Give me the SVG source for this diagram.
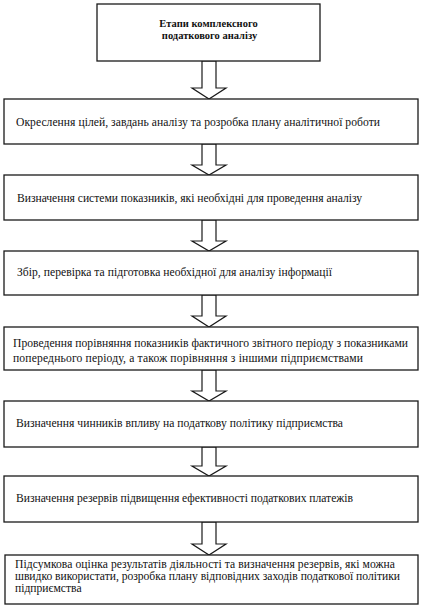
<svg xmlns="http://www.w3.org/2000/svg" width="423" height="607" viewBox="0 0 423 607">
<style>
.box{fill:#fff;stroke:#1a1a1a;stroke-width:1.3}
.t{font-family:"Liberation Serif","Times New Roman",serif;font-size:11.6px;fill:#111}
.b{font-weight:bold;text-anchor:middle;font-size:10.5px}
.arr{fill:#fff;stroke:#1a1a1a;stroke-width:1.2;stroke-linejoin:miter}
</style>
<rect width="423" height="607" fill="#fff"/>
<g id="connectors">
<polygon class="arr" points="202,61 216,61 216,88 226,88 209,99 192,88 202,88"/>
<polygon class="arr" points="202,144 216,144 216,165 226,165 209,175 192,165 202,165"/>
<polygon class="arr" points="202,220 216,220 216,241 226,241 209,251 192,241 202,241"/>
<polygon class="arr" points="202,295 216,295 216,316 226,316 209,327 192,316 202,316"/>
<polygon class="arr" points="202,370 216,370 216,391 226,391 209,401 192,391 202,391"/>
<polygon class="arr" points="202,447 216,447 216,466 226,466 209,476 192,466 202,466"/>
<polygon class="arr" points="202,522 216,522 216,544 226,544 209,555 192,544 202,544"/>
</g>
<g id="n0">
<rect class="box" x="97" y="4" width="223" height="57"/>
<text class="t b" x="208.5" y="27">Етапи комплексного</text>
<text class="t b" x="209.5" y="39">податкового аналізу</text>
</g>
<g id="n1">
<rect class="box" x="4" y="99" width="414" height="45"/>
<text class="t" x="16" y="126" textLength="364">Окреслення цілей, завдань аналізу та розробка плану аналітичної роботи</text>
</g>
<g id="n2">
<rect class="box" x="4" y="175" width="414" height="45"/>
<text class="t" x="17" y="202" textLength="345">Визначення системи показників, які необхідні для проведення аналізу</text>
</g>
<g id="n3">
<rect class="box" x="4" y="251" width="414" height="44"/>
<text class="t" x="17" y="276" textLength="315">Збір, перевірка та підготовка необхідної для аналізу інформації</text>
</g>
<g id="n4">
<rect class="box" x="4" y="327" width="414" height="43"/>
<text class="t" x="13" y="347" textLength="395">Проведення порівняння показників фактичного звітного періоду з показниками</text>
<text class="t" x="13" y="361.5" textLength="350">попереднього періоду, а також порівняння з іншими підприємствами</text>
</g>
<g id="n5">
<rect class="box" x="4" y="401" width="414" height="46"/>
<text class="t" x="16" y="427" textLength="327">Визначення чинників впливу на податкову політику підприємства</text>
</g>
<g id="n6">
<rect class="box" x="4" y="476" width="414" height="46"/>
<text class="t" x="16" y="502" textLength="337">Визначення резервів підвищення ефективності податкових платежів</text>
</g>
<g id="n7">
<rect class="box" x="5" y="555" width="413" height="49"/>
<text class="t" x="15" y="568" textLength="380">Підсумкова оцінка результатів діяльності та визначення резервів, які можна</text>
<text class="t" x="15" y="580" textLength="385">швидко використати, розробка плану відповідних заходів податкової політики</text>
<text class="t" x="15" y="592">підприємства</text>
</g>
</svg>
